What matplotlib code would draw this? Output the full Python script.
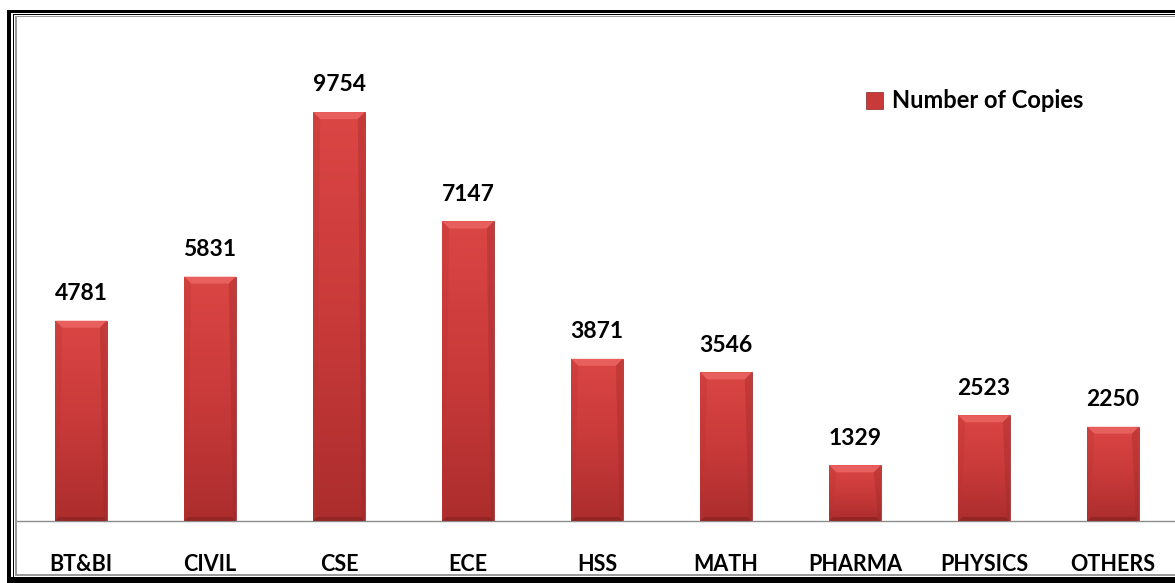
import numpy as np
import matplotlib.pyplot as plt
from matplotlib.patches import Rectangle, Polygon
from matplotlib.colors import LinearSegmentedColormap
from matplotlib.transforms import IdentityTransform

plt.rcParams['font.family'] = ['Lato', 'DejaVu Sans']

depts = ['BT&BI', 'CIVIL', 'CSE', 'ECE', 'HSS', 'MATH', 'PHARMA', 'PHYSICS', 'OTHERS']
copies = [4781, 5831, 9754, 7147, 3871, 3546, 1329, 2523, 2250]

W, H = 1175, 583
fig = plt.figure(figsize=(W / 100, H / 100), dpi=100)


def fx(px):
    return px / W


def fy(py):
    return 1 - py / H


def box(x0, y0, x1, y1, color):
    # pixel box measured from the top-left corner
    fig.add_artist(Rectangle((fx(x0), fy(y1)), fx(x1) - fx(x0), fy(y0) - fy(y1),
                             transform=fig.transFigure, facecolor=color,
                             edgecolor='none', zorder=10))


# double frame round the chart
box(7, 10, 11, 583, 'black')
box(7, 10, 1180, 12.5, 'black')
box(7, 577, 1180, 583, 'black')
box(13, 14, 14.3, 577, 'black')
box(13, 14, 1180, 15.3, 'black')
box(15.3, 16.3, 16.5, 575.5, '#9a9a9a')
box(15.3, 16.3, 1180, 17.4, '#9a9a9a')
box(15.3, 574.3, 1180, 575.5, '#9a9a9a')

ax = fig.add_axes([fx(16.5), fy(521), 1161 / W, (521 - 18) / H])
x = np.arange(len(depts))
bars = ax.bar(x, copies, width=0.4, color='#cc3c3c', edgecolor='#8e2424',
              linewidth=0.5, zorder=2)
ax.set_xlim(-0.5, len(depts) - 0.5)
ax.set_ylim(0, 12000)

cmap = LinearSegmentedColormap.from_list('red', ['#ac2d2d', '#c93a3a', '#da4644'])
grad = np.linspace(0, 1, 256).reshape(-1, 1)
for b in bars:
    x0, w, h = b.get_x(), b.get_width(), b.get_height()
    im = ax.imshow(grad, cmap=cmap, origin='lower', aspect='auto',
                   extent=(x0, x0 + w, 0, h), zorder=2.5)
    im.set_clip_path(b)

# bevel on top and bottom of each bar
for b in bars:
    x0, w, h = b.get_x(), b.get_width(), b.get_height()
    (l, t) = ax.transData.transform((x0, h))
    (r, bot) = ax.transData.transform((x0 + w, 0))
    d = 7
    top = Polygon([(l, t), (r, t), (r - d, t - d), (l + d, t - d)],
                  closed=True, facecolor='#ee6a68', edgecolor='none',
                  alpha=0.75, transform=IdentityTransform(), zorder=3)
    base = Polygon([(l, bot), (r, bot), (r - 4, bot + 4), (l + 4, bot + 4)],
                   closed=True, facecolor='#8a2222', edgecolor='none',
                   alpha=0.7, transform=IdentityTransform(), zorder=3)
    left = Polygon([(l, t), (l + d, t - d), (l + 3, bot + 4), (l, bot)],
                   closed=True, facecolor='#b83232', edgecolor='none',
                   alpha=0.3, transform=IdentityTransform(), zorder=3)
    right = Polygon([(r, t), (r - d, t - d), (r - 3, bot + 4), (r, bot)],
                    closed=True, facecolor='#9a2828', edgecolor='none',
                    alpha=0.35, transform=IdentityTransform(), zorder=3)
    for p in (top, base, left, right):
        ax.add_patch(p)

for xi, v in zip(x, copies):
    ax.annotate(str(v), (xi, v), xytext=(0, 12), textcoords='offset points',
                ha='center', va='bottom', fontsize=16.5, fontweight='bold')

ax.set_xticks(x, depts)
ax.tick_params(axis='x', length=0, pad=24, labelsize=15.5)
for t in ax.get_xticklabels():
    t.set_fontweight('bold')
ax.set_yticks([])
for s in ('left', 'top', 'right'):
    ax.spines[s].set_visible(False)
ax.spines['bottom'].set_color('#8c8c8c')
ax.spines['bottom'].set_linewidth(1)

proxy = Rectangle((0, 0), 1, 1, facecolor='#c83a3a', edgecolor='#8e2424', linewidth=0.5)
fig.legend([proxy], ['Number of Copies'], loc='center left',
           bbox_to_anchor=(fx(866), fy(101)), frameon=False,
           handlelength=0.7, handleheight=0.7, handletextpad=0.4,
           borderpad=0, borderaxespad=0, prop={'weight': 'bold', 'size': 17})

fig.savefig('out.png', dpi=100)
